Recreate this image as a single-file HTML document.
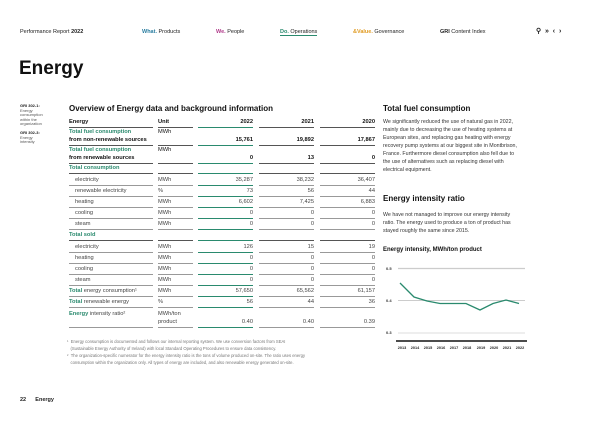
<!DOCTYPE html><html><head><style>
*{margin:0;padding:0;box-sizing:border-box}
body{width:600px;height:424px;background:#fff;font-family:"Liberation Sans",sans-serif;color:#222;position:relative;overflow:hidden}
.a{position:absolute;white-space:nowrap}
.r{position:absolute;left:0;width:600px}
.r>div{position:absolute;bottom:0;border-bottom:1px solid #999;font-size:5.7px;line-height:7.5px;padding-bottom:1px;color:#444}
.c1{left:69px;width:84px;padding-left:6px}
.c2{left:158px;width:35px}
.c3{left:198px;width:55px;text-align:right;border-bottom:1.6px solid #2a8a6e!important}
.c4{left:259px;width:55px;text-align:right}
.c5{left:320px;width:55px;text-align:right}
.h>div{border-bottom:1.6px solid #555!important;font-weight:bold;color:#111}
.h>.c3{border-bottom:1.6px solid #2a8a6e!important}
.nb{padding-left:0!important}
.t{color:#2a8a6e!important;font-weight:bold}
p.b{font-size:5.3px;line-height:8px;color:#333}
</style></head><body>
<div class="a" style="left:20px;top:29px;font-size:5.5px">Performance Report <b>2022</b></div>
<div class="a" style="left:142px;top:29px;font-size:5.5px"><b style="color:#2a7da0">What.</b> Products</div>
<div class="a" style="left:216px;top:29px;font-size:5.5px"><b style="color:#b03a8a">We.</b> People</div>
<div class="a" style="left:280px;top:29px;font-size:5.5px;border-bottom:1px solid #2a8a6e"><b style="color:#2a8a6e">Do.</b> Operations</div>
<div class="a" style="left:353px;top:29px;font-size:5.5px"><b style="color:#e09a20">&amp;Value.</b> Governance</div>
<div class="a" style="left:440px;top:29px;font-size:5.5px"><b>GRI</b> Content Index</div>
<div class="a" style="left:536px;top:27px;font-size:7px;font-weight:bold">&#9906; &nbsp;» &nbsp;‹ &nbsp;›</div>
<div class="a" style="left:19px;top:58px;font-size:19px;font-weight:bold;color:#111">Energy</div>
<div class="a" style="left:20px;top:104px;font-size:4px;line-height:4.5px;color:#555"><b style="color:#222">GRI 302-1:</b><br>Energy<br>consumption<br>within the<br>organization<br><br><b style="color:#222">GRI 302-3:</b><br>Energy<br>intensity</div>
<div class="a" style="left:69px;top:104px;font-size:8px;font-weight:bold;color:#111">Overview of Energy data and background information</div>

<div class="r h" style="top:120px;height:8px"><div class="c1 nb">Energy</div><div class="c2">Unit</div><div class="c3">2022</div><div class="c4">2021</div><div class="c5">2020</div></div>
<div class="r h" style="top:130px;height:16px"><div class="c1 nb"><span class="t">Total fuel consumption</span><br>from non-renewable sources</div><div class="c2" style="font-weight:normal">MWh<br>&nbsp;</div><div class="c3">15,761</div><div class="c4">19,892</div><div class="c5">17,867</div></div>
<div class="r h" style="top:148px;height:16px"><div class="c1 nb"><span class="t">Total fuel consumption</span><br>from renewable sources</div><div class="c2" style="font-weight:normal">MWh<br>&nbsp;</div><div class="c3">0</div><div class="c4">13</div><div class="c5">0</div></div>
<div class="r h" style="top:166px;height:8px"><div class="c1 nb t">Total consumption</div><div class="c2">&nbsp;</div><div class="c3">&nbsp;</div><div class="c4">&nbsp;</div><div class="c5">&nbsp;</div></div>
<div class="r" style="top:178px;height:8px"><div class="c1">electricity</div><div class="c2">MWh</div><div class="c3">35,287</div><div class="c4">38,232</div><div class="c5">36,407</div></div>
<div class="r" style="top:189px;height:8px"><div class="c1">renewable electricity</div><div class="c2">%</div><div class="c3">73</div><div class="c4">56</div><div class="c5">44</div></div>
<div class="r" style="top:200px;height:8px"><div class="c1">heating</div><div class="c2">MWh</div><div class="c3">6,602</div><div class="c4">7,425</div><div class="c5">6,883</div></div>
<div class="r" style="top:211px;height:8px"><div class="c1">cooling</div><div class="c2">MWh</div><div class="c3">0</div><div class="c4">0</div><div class="c5">0</div></div>
<div class="r" style="top:222px;height:8px"><div class="c1">steam</div><div class="c2">MWh</div><div class="c3">0</div><div class="c4">0</div><div class="c5">0</div></div>
<div class="r h" style="top:233px;height:8px"><div class="c1 nb t">Total sold</div><div class="c2">&nbsp;</div><div class="c3">&nbsp;</div><div class="c4">&nbsp;</div><div class="c5">&nbsp;</div></div>
<div class="r" style="top:245px;height:8px"><div class="c1">electricity</div><div class="c2">MWh</div><div class="c3">126</div><div class="c4">15</div><div class="c5">19</div></div>
<div class="r" style="top:256px;height:8px"><div class="c1">heating</div><div class="c2">MWh</div><div class="c3">0</div><div class="c4">0</div><div class="c5">0</div></div>
<div class="r" style="top:267px;height:8px"><div class="c1">cooling</div><div class="c2">MWh</div><div class="c3">0</div><div class="c4">0</div><div class="c5">0</div></div>
<div class="r" style="top:278px;height:8px"><div class="c1">steam</div><div class="c2">MWh</div><div class="c3">0</div><div class="c4">0</div><div class="c5">0</div></div>
<div class="r" style="top:289px;height:8px"><div class="c1 nb"><span class="t">Total</span> energy consumption¹</div><div class="c2">MWh</div><div class="c3">57,650</div><div class="c4">65,562</div><div class="c5">61,157</div></div>
<div class="r" style="top:300px;height:8px"><div class="c1 nb"><span class="t">Total</span> renewable energy</div><div class="c2">%</div><div class="c3">56</div><div class="c4">44</div><div class="c5">36</div></div>
<div class="r" style="top:311px;height:17px"><div class="c1 nb"><span class="t">Energy</span> intensity ratio²<br>&nbsp;</div><div class="c2">MWh/ton<br>product</div><div class="c3">0.40</div><div class="c4">0.40</div><div class="c5">0.39</div></div>

<div class="a" style="left:67px;top:338px;font-size:4.2px;line-height:7px;color:#777">¹ &nbsp;Energy consumption is documented and follows our internal reporting system. We use conversion factors from SEAI<br>&nbsp;&nbsp;&nbsp;(Sustainable Energy Authority of Ireland) with local Standard Operating Procedures to ensure data consistency.<br>² &nbsp;The organization-specific numerator for the energy intensity ratio is the tons of volume produced on-site. The ratio uses energy<br>&nbsp;&nbsp;&nbsp;consumption within the organization only. All types of energy are included, and also renewable energy generated on-site.</div>
<div class="a" style="left:20px;top:397px;font-size:5.5px;font-weight:bold">22 &nbsp;&nbsp;&nbsp;&nbsp;&nbsp;Energy</div>

<div class="a" style="left:383px;top:104px;font-size:8px;font-weight:bold;color:#111">Total fuel consumption</div>
<div class="a" style="left:383px;top:118px"><p class="b">We significantly reduced the use of natural gas in 2022,<br>mainly due to decreasing the use of heating systems at<br>European sites, and replacing gas heating with energy<br>recovery pump systems at our biggest site in Montbrison,<br>France. Furthermore diesel consumption also fell due to<br>the use of alternatives such as replacing diesel with<br>electrical equipment.</p></div>
<div class="a" style="left:383px;top:194px;font-size:8px;font-weight:bold;color:#111">Energy intensity ratio</div>
<div class="a" style="left:383px;top:211px"><p class="b">We have not managed to improve our energy intensity<br>ratio. The energy used to produce a ton of product has<br>stayed roughly the same since 2015.</p></div>
<div class="a" style="left:383px;top:247px;font-size:6px;font-weight:bold;color:#111">Energy intensity, MWh/ton product</div>
<svg class="a" style="left:0;top:0" width="600" height="424">
<g font-family="Liberation Sans" font-size="4" font-weight="bold" fill="#333">
<text x="386" y="270">0.5</text><text x="386" y="302">0.4</text><text x="386" y="334">0.3</text></g>
<line x1="398" y1="268.5" x2="525" y2="268.5" stroke="#ccc" stroke-width="1.2"/>
<line x1="398" y1="300.5" x2="525" y2="300.5" stroke="#bbb" stroke-width="0.8"/>
<line x1="398" y1="333" x2="525" y2="333" stroke="#bbb" stroke-width="0.6"/>
<line x1="396" y1="341" x2="527" y2="341" stroke="#111" stroke-width="1.5"/>
<polyline fill="none" stroke="#2a8a6e" stroke-width="1.3" points="400,283 414,297 427,301 440,303.5 453,303.5 466,303.5 480,310 493,303.5 506,300 519,303.5"/>
<g font-family="Liberation Sans" font-size="3.8" font-weight="bold" fill="#222" text-anchor="middle">
<text x="402" y="349">2013</text><text x="415" y="349">2014</text><text x="428" y="349">2015</text><text x="441" y="349">2016</text><text x="454" y="349">2017</text><text x="467" y="349">2018</text><text x="481" y="349">2019</text><text x="494" y="349">2020</text><text x="507" y="349">2021</text><text x="520" y="349">2022</text></g>
</svg>
</body></html>
